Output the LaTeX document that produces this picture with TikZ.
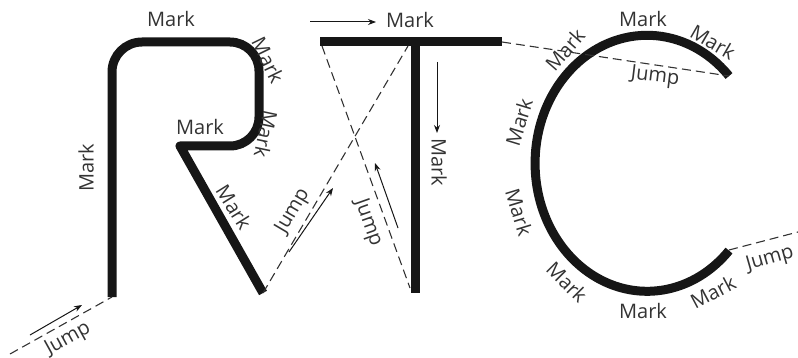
\documentclass[tikz,border=0pt]{standalone}
\usepackage{fontspec}
\setsansfont{Open Sans}
\usetikzlibrary{arrows.meta}
\definecolor{ink}{HTML}{161616}
\definecolor{lbl}{HTML}{333333}

\begin{document}
\begin{tikzpicture}[x=0.5pt, y=-0.5pt,
    stroke/.style={draw=ink, line width=4.5pt, line join=round},
    jump/.style={draw=lbl, line width=0.55pt, dash pattern=on 4.5pt off 2.5pt},
    dir/.style={draw=ink, line width=0.5pt, -{Stealth[length=4pt,width=3pt]}},
    lab/.style={text=lbl, font=\sffamily\fontsize{10}{11}\selectfont, inner sep=0pt}]
    \useasboundingbox (0,0) rectangle (798,358);
    \coordinate (jin) at (10,354);
    \coordinate (rfoot) at (112,297);
    \coordinate (rleg) at (263,293);
    \coordinate (tleft) at (322,46);
    \coordinate (ttop) at (408,46);
    \coordinate (tfoot) at (410,288);
    \coordinate (tend) at (502,42);
    \coordinate (ctop) at (729,76);
    \coordinate (cbot) at (729,250);
    \coordinate (jout) at (798,232);
    \draw[stroke] (rfoot) -- (112,72) arc[start angle=180,end angle=270,radius=30]
        -- (230,42) arc[start angle=270,end angle=360,radius=29]
        -- (259,117) arc[start angle=0,end angle=90,radius=29] -- (180,146) -- (rleg);
    \draw[stroke] (320,42) -- (tend);
    \draw[stroke] (415,42) -- (415,293);
    \draw[stroke] (ctop) arc[start angle=317,end angle=43,x radius=112,y radius=128];
    \draw[jump] (jin) -- (rfoot);
    \draw[jump] (rleg) -- (ttop);
    \draw[jump] (tleft) -- (tfoot);
    \draw[jump] (tend) -- (ctop);
    \draw[jump] (cbot) -- (jout);
    \node[lab] (rm1) at (171,19) {Mark};
    \node[lab, rotate=-64] (rm2) at (268,60) {Mark};
    \node[lab, rotate=-102] (rm3) at (266,134) {Mark};
    \node[lab] (rm4) at (200,127) {Mark};
    \node[lab, rotate=-58] (rm5) at (234,207) {Mark};
    \node[lab, rotate=90] (rm6) at (86,168) {Mark};
    \node[lab] (tm1) at (410,20) {Mark};
    \node[lab, rotate=-90] (tm2) at (439,162) {Mark};
    \node[lab] (cm1) at (643,19) {Mark};
    \node[lab, rotate=-30] (cm2) at (713,42) {Mark};
    \node[lab, rotate=49] (cm3) at (565,50) {Mark};
    \node[lab, rotate=73] (cm4) at (519,122) {Mark};
    \node[lab, rotate=-73] (cm5) at (519,212) {Mark};
    \node[lab, rotate=-45] (cm6) at (567,282) {Mark};
    \node[lab] (cm7) at (643,311) {Mark};
    \node[lab, rotate=28] (cm8) at (713,292) {Mark};
    \node[lab, rotate=29] (j1) at (68,339) {Jump};
    \node[lab, rotate=59.5] (j2) at (293,211) {Jump};
    \node[lab, rotate=-70.5] (j3) at (368,223) {Jump};
    \node[lab, rotate=-7] (j4) at (655,77) {Jump};
    \node[lab, rotate=16] (j5) at (770,259) {Jump};
    \coordinate (a1) at (30,335);
    \coordinate (a2) at (82,305);
    \coordinate (b1) at (289,252);
    \coordinate (b2) at (333,188);
    \coordinate (c1) at (398,228);
    \coordinate (c2) at (375,163);
    \coordinate (d1) at (310,22);
    \coordinate (d2) at (376,22);
    \coordinate (e1) at (437,62);
    \coordinate (e2) at (437,133);
    \draw[dir] (a1) -- (a2);
    \draw[dir] (b1) -- (b2);
    \draw[dir] (c1) -- (c2);
    \draw[dir] (d1) -- (d2);
    \draw[dir] (e1) -- (e2);
\end{tikzpicture}
\end{document}
